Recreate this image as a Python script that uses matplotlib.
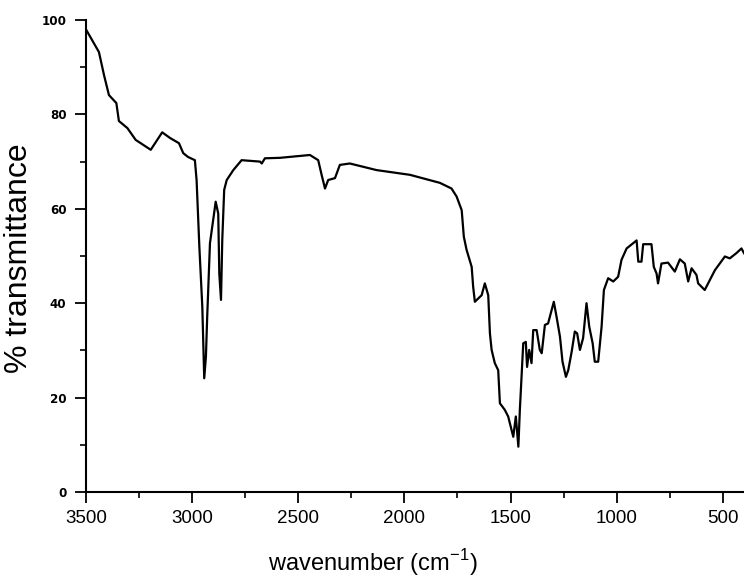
import matplotlib
matplotlib.use("Agg")
import matplotlib.pyplot as plt
from matplotlib.ticker import MultipleLocator

wavenumber = [3500, 3439, 3415, 3392, 3357, 3345, 3305, 3266, 3195, 3141, 3104, 3062, 3042, 3020, 2987,
              2979, 2966, 2952, 2943, 2935, 2929, 2916, 2903, 2889, 2877, 2872, 2864, 2858, 2849,
              2837, 2806, 2767, 2680, 2672, 2657, 2586, 2445, 2406, 2390, 2374, 2359, 2327, 2304,
              2257, 2131, 1974, 1833, 1778, 1754, 1730, 1720, 1707, 1683, 1676, 1668, 1636, 1621,
              1605, 1597, 1589, 1574, 1558, 1550, 1527, 1511, 1495, 1487, 1475, 1463, 1456, 1448,
              1440, 1428, 1422, 1412, 1401, 1393, 1377, 1362, 1353, 1338, 1323, 1296, 1283, 1267,
              1255, 1239, 1228, 1212, 1197, 1186, 1173, 1158, 1142, 1129, 1113, 1103, 1087, 1071,
              1060, 1040, 1016, 993, 977, 953, 914, 906, 898, 883, 875, 836, 825, 812, 805, 789,
              758, 726, 702, 679, 663, 647, 624, 616, 585, 569, 537, 490, 467, 436, 412, 400]
transmittance = [98.0, 93.2, 88.3, 84.1, 82.4, 78.6, 77.1, 74.6, 72.5, 76.2, 75.0, 73.9, 71.8, 71.0, 70.3,
                 66.1, 52.0, 39.2, 24.1, 28.7, 37.1, 52.7, 56.9, 61.5, 59.0, 46.3, 40.7, 53.4, 64.0,
                 66.1, 68.2, 70.3, 70.0, 69.6, 70.7, 70.8, 71.4, 70.3, 67.2, 64.3, 66.1, 66.5, 69.3,
                 69.6, 68.2, 67.2, 65.5, 64.3, 62.6, 59.7, 54.1, 51.3, 47.7, 43.5, 40.3, 41.7, 44.2,
                 41.7, 33.6, 30.1, 27.3, 25.8, 18.8, 17.4, 16.0, 13.1, 11.7, 16.0, 9.6, 17.4, 24.4,
                 31.5, 31.8, 26.5, 30.1, 27.3, 34.3, 34.3, 30.1, 29.4, 35.4, 35.7, 40.3, 37.1, 32.9,
                 27.6, 24.4, 25.8, 29.7, 34.0, 33.6, 30.1, 32.6, 40.0, 35.0, 31.5, 27.6, 27.6, 35.0,
                 42.8, 45.3, 44.6, 45.6, 49.2, 51.6, 53.0, 53.3, 48.8, 48.8, 52.5, 52.5, 47.7, 46.3, 44.2, 48.4,
                 48.6, 46.7, 49.3, 48.4, 44.6, 47.4, 46.0, 44.2, 42.8, 44.2, 47.0, 49.9, 49.5, 50.6, 51.6, 50.6]

x_ticks = [3500, 3000, 2500, 2000, 1500, 1000, 500]
y_ticks = [0, 20, 40, 60, 80, 100]

fig = plt.figure(figsize=(7.44, 5.79), dpi=100)
ax = fig.add_axes([86/744, 1 - 492/579, 1 - 86/744, (492 - 20)/579])
ax.plot(wavenumber, transmittance, color="black", lw=1.6)
ax.set_xlim(3500, 400)
ax.set_ylim(0, 100)
ax.spines["top"].set_visible(False)
ax.spines["right"].set_visible(False)
for s in ("left", "bottom"):
    ax.spines[s].set_linewidth(1.5)
ax.set_xticks(x_ticks)
ax.set_yticks(y_ticks)
ax.xaxis.set_minor_locator(MultipleLocator(250))
ax.yaxis.set_minor_locator(MultipleLocator(10))
ax.tick_params(axis="both", which="major", direction="out", length=8, width=1.3)
ax.tick_params(axis="both", which="minor", direction="out", length=4.5, width=1.2)
ax.tick_params(axis="x", which="major", pad=5)
ax.tick_params(axis="y", which="major", pad=6)
for lab in ax.get_xticklabels():
    lab.set_fontfamily("Liberation Sans")
    lab.set_fontsize(13.5)
for lab in ax.get_yticklabels():
    lab.set_fontfamily("DejaVu Sans")
    lab.set_fontweight("bold")
    lab.set_fontsize(8.6)

fig.text(373/744, 1 - 571/579, r"wavenumber (cm$^{\mathregular{-1}}$)", ha="center", va="baseline",
         fontsize=17, family="Liberation Sans")
fig.text(19/744, 1 - 258/579, "% transmittance", ha="center", va="center", rotation=90,
         fontsize=23, family="Liberation Sans")

fig.savefig("out.png", dpi=100)
